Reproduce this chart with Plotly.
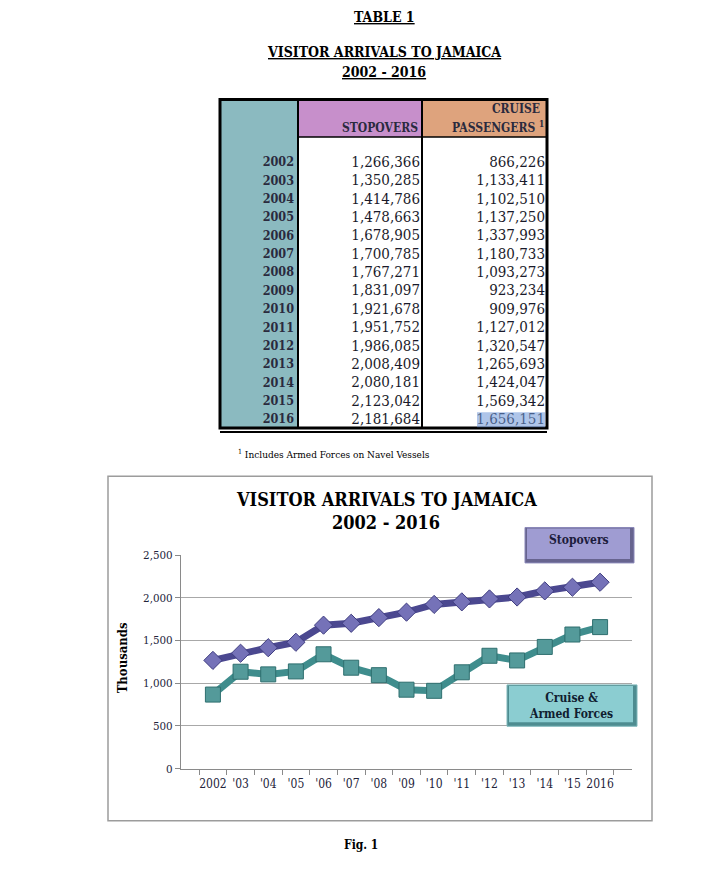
import plotly.graph_objects as go

# ---------------- data ----------------
years = [2002, 2003, 2004, 2005, 2006, 2007, 2008, 2009, 2010, 2011, 2012, 2013, 2014, 2015, 2016]
stopovers = [1266366, 1350285, 1414786, 1478663, 1678905, 1700785, 1767271, 1831097,
             1921678, 1951752, 1986085, 2008409, 2080181, 2123042, 2181684]
cruise = [866226, 1133411, 1102510, 1137250, 1337993, 1180733, 1093273, 923234,
          909976, 1127012, 1320547, 1265693, 1424047, 1569342, 1656151]
x_labels = ["2002", "'03", "'04", "'05", "'06", "'07", "'08", "'09", "'10",
            "'11", "'12", "'13", "'14", "'15", "2016"]
y_ticks = [0, 500, 1000, 1500, 2000, 2500]
col_headers = ["STOPOVERS", "CRUISE", "PASSENGERS <sup>1</sup>"]

W, H = 722, 870
SERIF = "DejaVu Serif Condensed, Liberation Serif, serif"
TEAL = "#8bbac0"
PURPLE = "#c78fcb"
ORANGE = "#dea37d"
INK = "#23233a"


def px(x):
    return x / W


def py(y):
    return 1 - y / H


fig = go.Figure()

# ---------------- table (text on its own hidden axes) ----------------
TAB_X0, TAB_X1 = 220, 547
col_right = {"year": 294 - TAB_X0, "stop": 420 - TAB_X0, "cruise": 545 - TAB_X0}

fig.add_trace(go.Scatter(
    x=[col_right["year"]] * len(years), y=years, text=[f"<b>{y}</b>" for y in years],
    mode="text", textposition="middle left",
    textfont=dict(family=SERIF, size=12.5, color="#2a2a3e"),
    xaxis="x2", yaxis="y2", showlegend=False, hoverinfo="skip", cliponaxis=False,
))
fig.add_trace(go.Scatter(
    x=[col_right["stop"]] * len(years), y=years, text=[f"{v:,}" for v in stopovers],
    mode="text", textposition="middle left",
    textfont=dict(family=SERIF, size=15, color="#1a1a2a"),
    xaxis="x2", yaxis="y2", showlegend=False, hoverinfo="skip", cliponaxis=False,
))
fig.add_trace(go.Scatter(
    x=[col_right["cruise"]] * len(years), y=years, text=[f"{v:,}" for v in cruise],
    mode="text", textposition="middle left",
    textfont=dict(family=SERIF, size=15, color="#1a1a2a"),
    xaxis="x2", yaxis="y2", showlegend=False, hoverinfo="skip", cliponaxis=False,
))

# ---------------- chart ----------------
fig.add_trace(go.Scatter(
    x=x_labels, y=[v / 1000 for v in stopovers], mode="lines+markers",
    line=dict(color="#4b4890", width=7),
    marker=dict(symbol="diamond", size=14, color="#7572b8",
                line=dict(color="#3f3d80", width=1)),
    showlegend=False, xaxis="x", yaxis="y", cliponaxis=False,
))
fig.add_trace(go.Scatter(
    x=x_labels, y=[v / 1000 for v in cruise], mode="lines+markers",
    line=dict(color="#3f8d8d", width=7),
    marker=dict(symbol="square", size=15, color="#549a9a",
                line=dict(color="#2f6f6f", width=1)),
    showlegend=False, xaxis="x", yaxis="y", cliponaxis=False,
))


def prect(x0, y0, x1, y1, **kw):
    d = dict(type="rect", xref="paper", yref="paper", x0=px(x0), x1=px(x1), y0=py(y1), y1=py(y0))
    d.update(kw)
    return d


def pline(x0, y0, x1, y1, **kw):
    d = dict(type="line", xref="paper", yref="paper", x0=px(x0), x1=px(x1), y0=py(y0), y1=py(y1))
    d.update(kw)
    return d


shapes = [
    # table fills
    prect(220, 94, 298, 428, fillcolor=TEAL, line=dict(width=0), layer="below"),
    prect(298, 94, 422, 132, fillcolor=PURPLE, line=dict(width=0), layer="below"),
    prect(422, 94, 547, 132, fillcolor=ORANGE, line=dict(width=0), layer="below"),
    # table borders
    prect(220, 94, 547, 428, line=dict(color="black", width=3), layer="above"),
    pline(298, 94, 298, 428, line=dict(color="black", width=2), layer="above"),
    pline(422, 94, 422, 428, line=dict(color="black", width=2), layer="above"),
    pline(298, 132, 547, 132, line=dict(color="black", width=1.5), layer="above"),
    pline(220, 432, 547, 432, line=dict(color="black", width=2), layer="above"),
    # selection highlight on last cruise value
    prect(477, 412, 545, 427, fillcolor="rgba(110,150,215,0.55)", line=dict(width=0), layer="above"),
    # chart frame
    prect(108, 477, 652, 827, line=dict(color="#9c9c9c", width=1.5), layer="below"),
    # legend boxes (bevel: dark outer, light inner)
    prect(525, 529, 634, 565, fillcolor="#67648f", line=dict(color="#8a87b8", width=1), layer="above"),
    prect(527, 530, 630, 561, fillcolor="#9f9cd2", line=dict(width=0), layer="above"),
    prect(507, 689, 637, 731, fillcolor="#4e8c90", line=dict(color="#7fb8bb", width=1), layer="above"),
    prect(509, 690, 633, 727, fillcolor="#8bcdd1", line=dict(width=0), layer="above"),
]

annotations = [
    dict(text="<b><u>TABLE 1</u></b>", x=px(384), y=py(10), font=dict(size=14)),
    dict(text="<b><u>VISITOR ARRIVALS TO JAMAICA</u></b>", x=px(384), y=py(46), font=dict(size=14)),
    dict(text="<b><u>2002 - 2016</u></b>", x=px(384), y=py(66), font=dict(size=14)),
    dict(text=f"<b>{col_headers[0]}</b>", x=px(420), y=py(123), xanchor="right",
         font=dict(size=12, color="#2a2a3e")),
    dict(text=f"<b>{col_headers[1]}</b>", x=px(542), y=py(104), xanchor="right",
         font=dict(size=12, color="#2a2a3e")),
    dict(text=f"<b>{col_headers[2]}</b>", x=px(546), y=py(122), xanchor="right",
         font=dict(size=12, color="#2a2a3e")),
    dict(text="<sup>1</sup> Includes Armed Forces on Navel Vessels", x=px(236), y=py(454),
         xanchor="left", font=dict(size=10)),
    dict(text="<b>VISITOR ARRIVALS TO JAMAICA</b>", x=px(386), y=py(501), font=dict(size=18)),
    dict(text="<b>2002 - 2016</b>", x=px(386), y=py(524), font=dict(size=18)),
    dict(text="<b>Thousands</b>", x=px(122), y=py(662), textangle=-90, font=dict(size=13)),
    dict(text="<b>Stopovers</b>", x=px(579), y=py(542), font=dict(size=12, color="#1c1c3c")),
    dict(text="<b>Cruise &amp;<br>Armed Forces</b>", x=px(571), y=py(710),
         font=dict(size=12, color="#102030")),
    dict(text="<b>Fig. 1</b>", x=px(361), y=py(852), font=dict(size=12)),
]
for a in annotations:
    a.update(xref="paper", yref="paper", showarrow=False, yanchor="middle",
             xanchor=a.get("xanchor", "center"))
    a["font"] = dict(family=SERIF, color=a["font"].get("color", "black"), size=a["font"]["size"])

# table row axis: one year per 18.67 px; bottom of table (430px) sits 10px below 2016's centre
row_px = 18.67
y2_bottom = 2016 + 10 / row_px
y2_top = y2_bottom - (430 - 94) / row_px

fig.update_layout(
    width=W, height=H, margin=dict(l=0, r=0, t=0, b=0),
    paper_bgcolor="white", plot_bgcolor="rgba(0,0,0,0)",
    font=dict(family=SERIF, color=INK),
    xaxis=dict(domain=[px(181), px(632)], anchor="y", type="category",
               tickson="boundaries", ticks="outside", ticklen=5, tickcolor="#8a8a8a",
               showline=True, linecolor="#8a8a8a", linewidth=1, showgrid=False,
               tickangle=0, ticklabelstandoff=4,
               tickfont=dict(family=SERIF, size=12, color=INK), fixedrange=True),
    yaxis=dict(domain=[py(774), py(557)], anchor="x", range=[0, 2500],
               tickvals=y_ticks, tickformat=",", ticks="outside", ticklen=5, tickcolor="#8a8a8a",
               showline=True, linecolor="#8a8a8a", linewidth=1,
               showgrid=True, gridcolor="#a8a8a8", gridwidth=1, zeroline=False,
               tickfont=dict(family=SERIF, size=11.5, color=INK), fixedrange=True),
    xaxis2=dict(domain=[px(TAB_X0), px(TAB_X1)], anchor="y2", range=[0, TAB_X1 - TAB_X0],
                visible=False, fixedrange=True),
    yaxis2=dict(domain=[py(430), py(94)], anchor="x2", range=[y2_bottom, y2_top],
                visible=False, fixedrange=True),
    shapes=shapes,
    annotations=annotations,
)

fig.write_html("out.html", config={"displayModeBar": False},
               post_script="document.body.style.margin='0';")
